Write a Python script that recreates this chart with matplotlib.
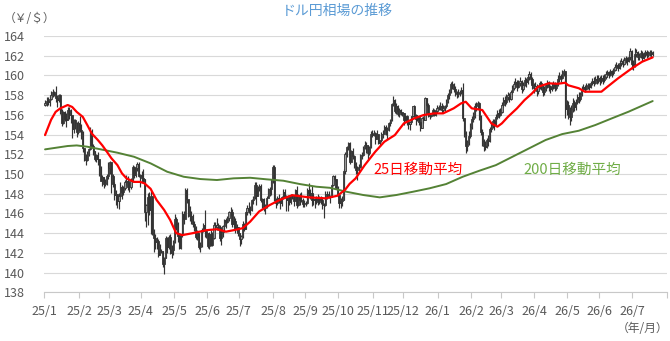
import numpy as np
import pandas as pd
import matplotlib
matplotlib.use("Agg")
import matplotlib.pyplot as plt

plt.rcParams['font.family'] = ['Noto Sans CJK JP', 'DejaVu Sans']

# ---------------- data (USD/JPY daily, weekdays from 2025-01-01) ----------------
first_open = 157.0
closes = [
    # 2025/1
    157.2,157.4,157.3,157.6,158.0,158.3,158.1,157.7,157.5,158.0,156.5,155.2,156.3,155.6,155.5,156.5,156.0,156.0,154.6,155.5,155.2,154.3,155.2,
    # 2025/2
    154.5,154.3,152.6,151.4,151.4,152.0,152.5,154.4,152.8,152.3,151.5,151.9,151.5,150.0,149.3,149.7,149.0,149.1,149.8,150.6,
    # 2025/3
    151.2,149.8,149.0,147.9,148.0,147.3,147.8,148.7,148.2,148.6,149.2,149.3,148.7,148.7,149.3,150.7,149.9,150.6,151.0,149.8,149.9,
    # 2025/4
    149.6,149.5,146.1,146.9,147.7,146.3,147.8,144.0,143.5,143.1,143.2,141.8,142.2,142.2,140.9,141.5,143.5,142.6,143.6,142.0,142.3,143.1,
    # 2025/5
    145.4,144.9,143.7,142.5,143.8,145.9,145.4,148.4,147.5,146.7,145.7,145.7,144.9,144.5,143.6,144.0,142.6,142.8,144.3,144.8,144.2,144.0,
    # 2025/6
    142.7,143.9,142.8,143.5,144.8,144.6,144.8,144.6,143.5,144.1,144.7,145.3,145.1,145.5,146.1,146.1,144.9,145.2,144.4,144.6,144.0,
    # 2025/7
    143.4,143.7,144.9,144.4,146.1,146.6,146.3,146.3,147.4,147.7,148.9,147.8,148.6,148.8,147.4,147.5,146.6,146.9,147.6,148.5,148.5,149.5,150.7,
    # 2025/8
    147.4,147.1,147.6,147.4,147.1,147.7,148.2,147.8,147.4,147.8,147.2,147.9,147.6,147.3,148.4,146.9,147.8,147.4,147.4,147.0,147.1,
    # 2025/9
    147.1,148.4,148.1,148.1,147.4,147.5,147.4,147.5,147.2,147.7,147.4,146.9,146.9,148.0,148.0,147.7,147.7,148.9,149.8,149.5,148.6,147.9,
    # 2025/10
    147.1,147.3,147.4,150.3,152.0,152.7,153.1,151.2,152.3,151.8,151.0,150.4,150.6,150.7,151.9,151.9,152.6,152.9,152.9,152.1,152.7,154.1,154.0,
    # 2025/11
    154.2,153.6,154.1,153.1,153.4,154.1,154.1,154.8,154.5,154.6,155.2,155.5,157.1,157.5,156.4,156.9,156.1,156.5,156.3,156.2,
    # 2025/12
    155.5,155.9,155.3,155.1,155.3,155.9,156.9,156.0,155.6,155.8,155.3,154.7,155.7,155.5,157.7,157.0,156.1,155.9,156.0,156.5,156.0,156.4,156.7,
    # 2026/1
    156.8,156.9,156.5,156.7,156.9,157.3,158.0,158.3,159.1,159.0,158.6,158.2,158.1,158.2,158.3,158.5,155.7,154.2,152.8,153.2,153.9,154.8,
    # 2026/2
    155.6,155.9,156.9,157.0,157.2,155.9,154.3,153.3,152.8,152.7,153.5,153.3,154.6,155.0,155.4,155.0,155.8,156.2,156.0,156.3,
    # 2026/3
    157.0,157.5,157.3,157.8,158.0,157.6,158.3,158.7,159.1,159.3,158.8,159.2,159.4,158.6,159.0,159.5,159.3,159.8,160.1,159.6,159.0,158.7,
    # 2026/4
    158.9,158.4,158.8,159.2,158.9,158.3,158.6,159.0,159.3,158.8,158.6,158.9,159.1,158.7,159.0,159.6,159.9,159.7,160.2,160.4,156.6,157.0,
    # 2026/5
    156.2,155.8,156.6,157.2,156.8,157.3,157.8,157.6,158.1,158.6,158.8,158.6,158.9,159.0,158.8,159.2,159.4,159.2,159.6,159.5,159.7,
    # 2026/6
    159.4,159.7,159.5,159.8,160.1,160.3,160.0,160.4,160.2,160.6,160.9,161.1,160.8,161.3,161.5,161.2,161.6,161.8,161.5,161.9,162.5,161.2,
    # 2026/7
    161.0,162.2,162.4,161.9,162.0,162.3,161.8,162.2,162.4,162.1,162.3,162.4,162.2,162.3,
]
highs = [
    157.5,157.8,157.8,158.0,158.4,158.6,158.4,158.9,158.0,158.1,158.1,156.6,156.4,156.4,156.2,156.8,156.8,156.6,156.0,155.6,155.6,155.3,155.4,
    155.9,155.1,154.4,152.6,152.0,152.3,152.6,154.8,154.6,153.0,152.3,152.0,152.2,151.5,150.8,149.9,149.7,149.5,150.0,151.2,
    151.3,151.2,150.0,149.2,148.4,148.0,148.1,149.2,148.9,148.8,149.4,149.9,149.8,149.2,149.6,150.9,150.8,150.8,151.2,151.2,150.0,
    150.3,150.5,149.3,147.0,148.1,148.2,148.3,147.8,144.4,143.9,143.6,143.4,142.9,142.4,142.2,141.6,143.7,143.6,143.8,143.9,142.8,143.3,
    145.9,145.6,145.1,144.0,143.9,146.2,146.2,148.6,148.6,147.5,146.8,146.2,145.9,145.2,144.7,144.3,144.0,143.1,144.5,145.0,146.3,144.3,
    144.0,144.1,144.3,144.1,145.1,145.1,145.5,145.0,144.8,144.5,144.8,145.4,145.5,145.7,146.2,146.7,146.4,145.7,145.5,144.9,144.6,
    144.0,143.8,145.2,145.0,146.2,146.9,147.2,146.8,147.5,147.8,149.2,149.2,148.8,149.0,149.0,147.6,147.6,147.0,147.8,148.6,148.7,149.5,150.9,
    150.9,147.6,147.8,148.0,147.6,147.8,148.5,148.5,147.9,147.9,147.9,148.0,148.0,147.9,148.5,148.8,148.0,148.1,148.2,147.6,147.4,
    147.3,148.6,149.1,148.5,148.8,148.0,147.6,147.8,148.0,147.8,147.8,147.6,147.1,148.3,148.3,148.3,147.9,149.0,149.9,149.9,149.5,148.8,
    148.0,147.6,147.8,150.5,152.2,152.8,153.2,153.2,152.4,152.6,151.9,151.2,150.8,151.0,152.0,152.2,152.8,153.3,153.2,152.9,152.8,154.4,154.5,
    154.5,154.3,154.5,154.1,153.5,154.3,154.5,155.0,155.0,154.8,155.3,155.6,157.2,157.9,157.6,157.2,157.0,156.7,156.6,156.3,
    156.2,156.0,156.0,155.4,155.4,155.9,156.9,157.0,156.1,156.0,155.9,155.3,155.8,155.9,157.8,157.7,157.2,156.2,156.1,156.7,156.6,156.5,157.0,
    157.0,157.3,157.2,157.0,157.0,157.6,158.2,158.6,159.3,159.4,159.2,158.9,158.4,158.6,158.5,158.8,159.2,155.5,154.4,153.5,154.4,155.2,
    155.9,156.3,157.2,157.3,157.4,157.3,156.0,154.6,153.6,153.3,153.7,154.0,154.8,155.3,155.6,155.6,156.1,156.5,156.6,156.7,
    157.3,157.8,157.9,158.1,158.3,158.2,158.5,159.0,159.4,159.7,159.5,159.5,159.8,159.5,159.3,159.8,159.7,160.1,160.4,160.3,159.8,159.2,
    159.3,159.1,159.0,159.4,159.4,159.1,158.9,159.2,159.5,159.4,159.0,159.2,159.4,159.3,159.2,160.0,160.3,160.1,160.6,160.7,160.5,157.5,
    157.4,156.8,157.0,157.7,157.5,157.6,158.1,158.3,158.3,158.9,159.1,159.0,159.2,159.2,159.2,159.4,159.7,159.8,159.9,160.0,160.0,
    159.9,160.0,160.0,160.1,160.4,160.6,160.5,160.7,160.6,160.8,161.2,161.4,161.3,161.6,161.8,161.7,161.9,162.0,161.9,162.2,162.8,162.6,
    161.6,162.8,162.7,162.5,162.3,162.6,162.5,162.4,162.6,162.6,162.5,162.6,162.6,162.5,
]
lows = [
    156.9,156.9,157.0,156.9,157.5,157.8,157.9,157.3,156.8,157.3,156.1,154.9,155.1,155.4,154.8,155.5,155.6,155.2,153.7,154.2,154.6,153.8,154.1,
    154.3,153.6,152.2,151.3,150.9,151.3,151.8,152.4,152.6,151.9,151.3,151.2,150.9,149.8,149.3,148.8,148.6,148.8,148.9,149.5,
    150.0,148.1,148.7,147.4,146.9,146.6,146.5,147.7,147.5,147.9,148.4,148.9,148.4,148.2,148.5,149.2,149.6,149.7,150.3,149.7,148.7,
    149.2,149.1,145.2,144.6,144.8,145.8,143.9,143.8,142.1,142.4,142.4,141.6,141.8,142.0,140.6,139.9,141.5,142.0,142.4,141.9,141.5,141.8,
    143.0,144.3,143.1,142.4,142.4,143.6,144.9,145.4,147.1,145.6,145.2,144.9,144.6,144.2,143.4,143.3,142.4,142.1,142.6,144.1,143.6,143.5,
    142.5,142.4,142.7,142.7,143.4,144.3,144.3,144.3,143.2,142.8,143.6,144.2,144.5,145.0,145.2,145.7,144.6,144.6,144.0,144.1,143.7,
    142.7,142.9,143.5,144.2,144.5,145.8,146.0,145.8,146.2,147.0,147.5,146.9,147.9,148.3,147.2,146.6,146.2,145.9,146.6,147.6,147.8,147.9,149.1,
    147.3,146.6,146.9,147.1,146.5,146.8,147.5,147.6,146.2,146.2,146.9,147.0,147.5,146.8,147.4,146.6,146.8,146.9,147.2,146.7,146.7,
    146.8,147.0,147.8,147.5,146.8,146.9,146.6,147.0,146.9,147.0,147.0,146.5,145.5,146.8,147.5,147.6,147.1,147.7,148.8,149.3,148.5,147.7,
    146.6,146.6,146.8,147.8,150.0,151.7,152.4,151.0,151.3,151.5,150.6,150.0,149.4,150.2,150.6,151.5,151.8,152.5,152.1,151.5,151.9,152.6,153.8,
    153.9,153.0,153.6,153.0,152.8,153.2,153.7,154.1,154.0,153.6,154.4,154.9,155.4,156.9,156.2,156.1,155.9,155.8,156.0,155.9,
    155.0,155.4,155.0,154.6,154.5,155.1,155.8,155.8,155.0,155.4,155.0,154.4,154.7,155.2,155.6,156.8,155.8,155.6,155.8,155.9,155.9,155.9,156.2,
    156.5,156.5,156.2,156.3,156.4,156.7,157.2,157.6,158.2,158.6,158.3,157.9,157.7,157.8,157.9,158.1,155.4,153.8,152.1,152.3,152.9,153.7,
    154.6,155.3,155.7,156.4,156.6,155.5,154.0,152.8,152.3,152.4,152.6,152.8,153.2,154.3,154.7,154.5,154.9,155.6,155.7,155.9,
    156.2,156.8,156.9,157.1,157.5,157.3,157.5,158.1,158.5,158.8,158.4,158.7,158.9,158.2,158.4,158.9,158.8,159.1,159.5,159.2,158.6,158.2,
    158.4,157.9,158.1,158.6,158.5,157.9,158.0,158.4,158.7,158.4,158.2,158.4,158.6,158.4,158.5,158.9,159.3,159.3,159.6,159.9,155.7,156.0,
    155.6,155.0,155.4,156.3,156.4,156.5,157.1,157.2,157.4,157.9,158.4,158.3,158.5,158.6,158.5,158.7,159.0,158.9,159.1,159.1,159.2,
    159.0,159.2,159.1,159.3,159.6,159.8,159.7,159.9,159.8,160.0,160.4,160.6,160.5,160.7,161.0,160.9,161.1,161.3,161.1,161.4,161.6,160.7,
    160.6,160.9,161.9,161.6,161.6,161.8,161.5,161.7,161.9,161.8,161.9,162.0,161.9,162.0,
]

# 25-day moving average (trading-day index, value)
ma25_day = [0, 4, 7, 10, 15, 18, 21, 25, 28, 31, 35, 38, 41, 44, 48, 51, 54, 59, 63, 66, 70, 74, 79, 83, 85, 87, 91,
            98, 107, 114, 120, 125, 131, 136, 142, 149, 156, 164, 175, 186, 194, 199, 202, 206, 212, 219, 225, 232,
            238, 245, 251, 258, 264, 271, 276, 279, 283, 290, 296, 300, 303, 307, 313, 318, 323, 327, 334, 340, 345,
            347, 354, 358, 369, 373, 380, 389, 396, 403]
ma25_val = [153.95, 155.5, 156.3, 156.65, 157.0, 156.8, 156.3, 155.8, 154.97, 154.1, 153.45, 152.9, 152.26, 151.6,
            150.9, 150.07, 149.56, 149.2, 149.2, 149.05, 148.5, 147.36, 146.35, 145.33, 144.65, 144.0, 143.8,
            144.0, 144.3, 144.4, 144.15, 144.3, 144.5, 145.16, 146.2, 146.85, 147.4, 147.85, 147.63, 147.53, 147.8,
            148.4, 149.0, 149.56, 150.9, 152.26, 153.27, 153.95, 155.14, 155.65, 155.98, 156.15, 156.15, 156.66,
            157.17, 157.33, 156.66, 156.49, 155.14, 154.8, 155.14, 155.8, 156.66, 157.5, 158.18, 158.85, 159.2,
            159.15, 159.26, 159.0, 158.7, 158.35, 158.35, 158.85, 159.7, 160.7, 161.39, 161.83]

# 200-day moving average (trading-day index, value)
ma200_day = [0, 15, 21, 28, 37, 48, 59, 70, 81, 92, 103, 114, 125, 136, 147, 158, 169, 180, 189, 200, 211, 222, 233,
             244, 255, 266, 277, 288, 299, 310, 321, 332, 343, 354, 365, 376, 387, 403]
ma200_val = [152.5, 152.84, 152.9, 152.77, 152.5, 152.16, 151.75, 151.08, 150.23, 149.72, 149.49, 149.39, 149.56,
             149.62, 149.46, 149.32, 148.98, 148.71, 148.6, 148.2, 147.87, 147.63, 147.87, 148.2, 148.55, 148.98,
             149.72, 150.33, 150.9, 151.75, 152.6, 153.45, 154.05, 154.39, 154.97, 155.65, 156.32, 157.4]

# ---------------- prepare ----------------
closes = np.array(closes)
highs = np.array(highs)
lows = np.array(lows)
n = len(closes)
opens = np.concatenate([[first_open], closes[:-1]])
highs = np.maximum(highs, np.maximum(opens, closes))
lows = np.minimum(lows, np.minimum(opens, closes))
full_days = pd.bdate_range('2025-01-01', '2026-07-31')
x = np.arange(n)

W, H = 670, 341
fig = plt.figure(figsize=(W / 100, H / 100), dpi=100)
L, R, T, B = 44.3, 667, 36, 292.3
ax = fig.add_axes([L / W, 1 - B / H, (R - L) / W, (B - T) / H])
ax.set_ylim(138, 164)
ax.set_xlim(-0.5, len(full_days) - 0.5)
ax.set_yticks(np.arange(138, 165, 2))
ax.grid(axis='y', color='#D9D9D9', lw=0.8)
ax.set_axisbelow(True)
for s in ['top', 'right', 'left']:
    ax.spines[s].set_visible(False)
ax.spines['bottom'].set_color('#C8C8C8')
ax.spines['bottom'].set_linewidth(0.8)

# candles
ax.vlines(x, lows, highs, color='#333333', lw=0.85, zorder=2)
up = closes >= opens
ax.bar(x[up], (closes - opens)[up], bottom=opens[up], width=0.8, color='#9A9A9A',
       edgecolor='#333333', lw=0.6, zorder=3)
ax.bar(x[~up], (opens - closes)[~up], bottom=closes[~up], width=0.8, color='#333333',
       edgecolor='#333333', lw=0.6, zorder=3)

# moving averages
ax.plot(ma200_day, ma200_val, color='#548235', lw=1.4, zorder=4,
        solid_joinstyle='round', solid_capstyle='round')
ax.plot(ma25_day, ma25_val, color='#FF0000', lw=1.6, zorder=5,
        solid_joinstyle='round', solid_capstyle='round')

# x ticks at month starts
month_first = pd.Series(np.arange(len(full_days)), index=full_days).groupby(
    [full_days.year, full_days.month]).min()
tick_pos = [i - 0.5 for i in month_first.values] + [len(full_days) - 0.5]
tick_lab = [f"{y % 100}/{m}" for (y, m) in month_first.index] + ['']
ax.set_xticks(tick_pos)
ax.set_xticklabels(tick_lab)
ax.tick_params(axis='x', length=4, width=0.8, color='#C8C8C8', labelsize=9,
               labelcolor='#595959', pad=5)
ax.tick_params(axis='y', length=0, labelsize=9, labelcolor='#595959', pad=14)

# annotations
ax.text(218, 150.4, '25日移動平均', color='#FF0000', fontsize=10.5, ha='left', va='center')
ax.text(317, 150.4, '200日移動平均', color='#70AD47', fontsize=10.5, ha='left', va='center')

fig.text(337 / W, 1 - 11 / H, 'ドル円相場の推移', ha='center', va='center', fontsize=10, color='#5B9BD5')
fig.text(30 / W, 1 - 18 / H, '（￥/＄）', ha='center', va='center', fontsize=8.5, color='#595959')
fig.text(668 / W, 1 - 329 / H, '（年/月）', ha='right', va='center', fontsize=8.5, color='#595959')

fig.savefig('out.png', dpi=100)
